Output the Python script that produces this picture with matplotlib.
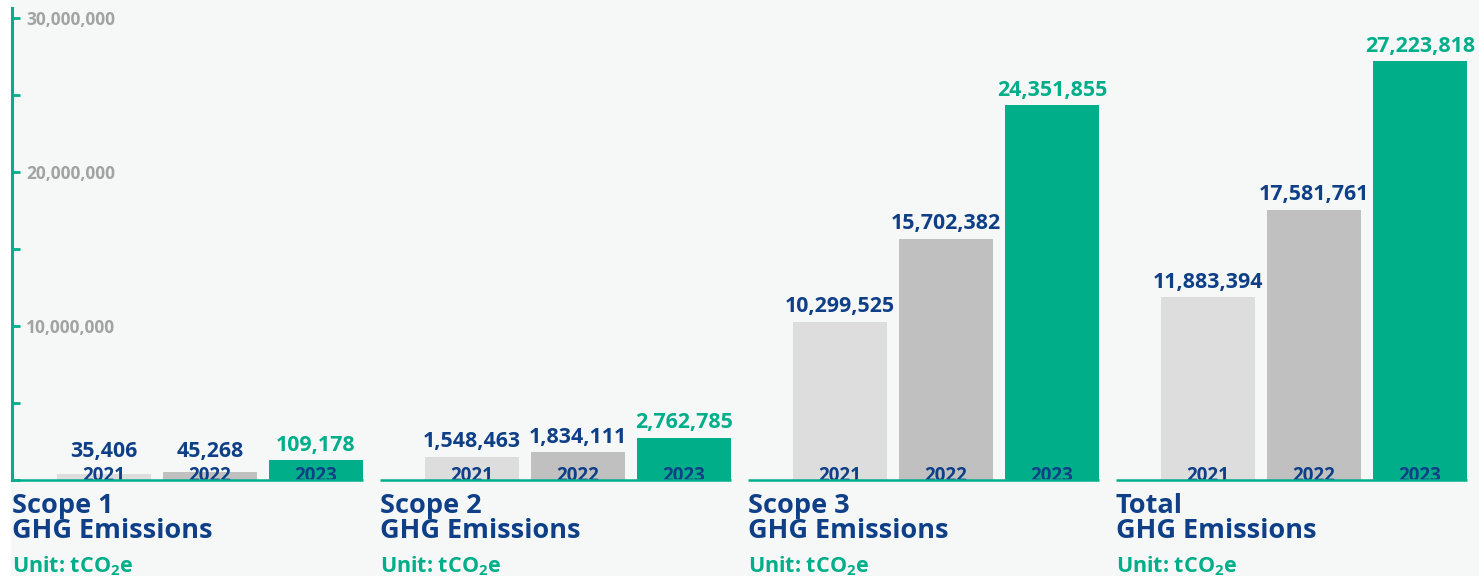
import numpy as np
import matplotlib.pyplot as plt
from matplotlib.patches import Rectangle

plt.rcParams.update({
    "font.family": ["Open Sans", "DejaVu Sans"],
    "font.weight": "bold",
    "mathtext.fontset": "custom",
    "mathtext.rm": "Open Sans:bold",
    "mathtext.bf": "Open Sans:bold",
})

groups = ["Scope 1\nGHG Emissions", "Scope 2\nGHG Emissions",
          "Scope 3\nGHG Emissions", "Total\nGHG Emissions"]
years = ["2021", "2022", "2023"]
values = {
    "2021": [35406, 1548463, 10299525, 11883394],
    "2022": [45268, 1834111, 15702382, 17581761],
    "2023": [109178, 2762785, 24351855, 27223818],
}
# scope 1 is drawn enlarged in the original so the bars stay visible
display_scale = [12, 1, 1, 1]
unit_label = r"Unit: tCO$_\mathbf{2}$e"

GREEN = "#00ae8a"
NAVY = "#0e3f87"
bar_colors = {"2021": "#dcdddc", "2022": "#bfc0bf", "2023": GREEN}
label_colors = {"2021": NAVY, "2022": NAVY, "2023": GREEN}


def plot(plot_file: str) -> None:
    fig = plt.figure(figsize=(14.79, 5.76), dpi=100)
    fig.patch.set_facecolor("white")
    fig.patches.append(Rectangle((11 / 1479, 0), 1, 1, transform=fig.transFigure,
                                 facecolor="#f6f8f8", edgecolor="none", zorder=-10))
    ax = fig.add_axes([12 / 1479, 96 / 576, 1458 / 1479, 472 / 576])
    ax.set_facecolor("none")

    group_step, bar_step, bar_w = 368, 106, 94
    for g in range(len(groups)):
        x0 = g * group_step
        for j, yr in enumerate(years):
            xc = x0 + 92 + j * bar_step
            h = values[yr][g] * display_scale[g]
            ax.bar(xc, h, width=bar_w, bottom=-30000, color=bar_colors[yr], zorder=2)
            ax.annotate(yr, (xc, 0), xytext=(0, -1), textcoords="offset points",
                        ha="center", va="baseline", fontsize=13.5, color=NAVY, zorder=3)
            ax.annotate(f"{values[yr][g]:,}", (xc, max(h, 900000)), xytext=(0, 3),
                        textcoords="offset points", ha="center", va="bottom",
                        fontsize=15.4, color=label_colors[yr], zorder=3)
        ax.plot([x0, x0 + 351], [0, 0], color=GREEN, lw=1.8, zorder=4,
                solid_capstyle="butt", clip_on=False)
        ax.annotate(groups[g], (x0, 0), xytext=(0, -9.4), textcoords="offset points",
                    ha="left", va="top", fontsize=19.5, color=NAVY,
                    linespacing=0.95, annotation_clip=False)
        ax.annotate(unit_label, (x0, 0), xytext=(0, -53.5), textcoords="offset points",
                    ha="left", va="top", fontsize=15.5, color=GREEN,
                    annotation_clip=False)

    ax.set_xlim(0, 1458)
    ax.set_ylim(0, 30650000)
    for side in ["top", "right", "bottom"]:
        ax.spines[side].set_visible(False)
    ax.spines["left"].set_color(GREEN)
    ax.spines["left"].set_linewidth(2.2)
    ax.set_xticks([])
    ticks = np.arange(0, 30000001, 5000000)
    ax.set_yticks(ticks)
    ax.set_yticklabels(["" if (t % 10000000 or t == 0) else f"{t:,}" for t in ticks])
    ax.tick_params(axis="y", direction="in", length=6, width=2, color=GREEN,
                   pad=-10, labelsize=12.5, labelcolor="#a3a3a3")
    for lbl in ax.get_yticklabels():
        lbl.set_horizontalalignment("left")

    fig.savefig(plot_file, dpi=100)
    plt.close(fig)


def main() -> None:
    plot("out.png")


if __name__ == "__main__":
    main()
